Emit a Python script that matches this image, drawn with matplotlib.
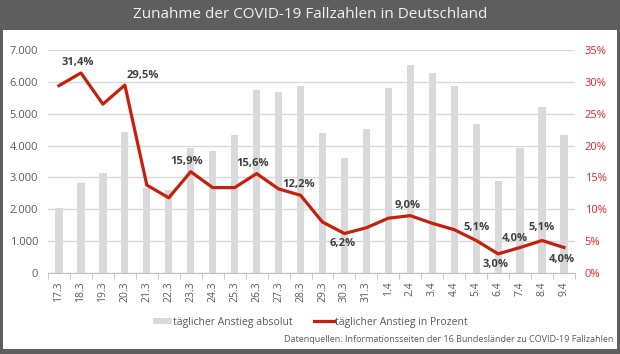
import numpy as np
import matplotlib
matplotlib.use("Agg")
import matplotlib.pyplot as plt
from matplotlib.patches import Rectangle, Patch
from matplotlib.lines import Line2D
from matplotlib.ticker import FuncFormatter, FixedLocator

plt.rcParams['font.family'] = ['Open Sans', 'DejaVu Sans']

# Daten
tage = ["17.3", "18.3", "19.3", "20.3", "21.3", "22.3", "23.3", "24.3", "25.3",
        "26.3", "27.3", "28.3", "29.3", "30.3", "31.3", "1.4", "2.4", "3.4",
        "4.4", "5.4", "6.4", "7.4", "8.4", "9.4"]
anstieg_absolut = [2040, 2820, 3130, 4420, 2680, 2600, 3910, 3830, 4340,
                   5740, 5680, 5880, 4390, 3600, 4510, 5800, 6540, 6290,
                   5870, 4680, 2890, 3920, 5210, 4320]
anstieg_prozent = [29.4, 31.4, 26.5, 29.5, 13.8, 11.8, 15.9, 13.4, 13.4,
                   15.6, 13.2, 12.2, 8.0, 6.2, 7.1, 8.6, 9.0, 7.8,
                   6.8, 5.1, 3.0, 4.0, 5.1, 4.0]

# welche Punkte beschriftet werden, mit Versatz in Pixeln (dx, dy)
beschriftung = {1: (-3, 10), 3: (18, 10), 6: (-4, 10), 9: (-4, 10), 11: (-2, 11),
                13: (-2, -10), 16: (-3, 10), 19: (0, 13), 20: (-3, -11),
                21: (-5, 9), 22: (0, 13), 23: (-2, -12)}

W, H = 620, 354
fig = plt.figure(figsize=(W / 100, H / 100), dpi=100)
fig.patch.set_facecolor("#5e5e5e")
fig.patches.append(Rectangle((3 / W, 5 / H), 614 / W, (H - 30 - 5) / H,
                             transform=fig.transFigure, facecolor="white",
                             edgecolor="none", zorder=-5))
fig.text(0.5, 1 - 15 / H, "Zunahme der COVID-19 Fallzahlen in Deutschland",
         ha="center", va="center", color="#f2f2f2", fontsize=11)

ax = fig.add_axes([48 / W, (H - 273) / H, 527 / W, 223 / H])
ax.set_zorder(1)
ax.set_facecolor("none")
x = np.arange(len(tage))
ax.bar(x, anstieg_absolut, width=0.33, color="#d9d9d9", zorder=2)
ax.set_xlim(-0.5, len(tage) - 0.5)
ax.set_ylim(0, 7000)
ax.set_yticks(np.arange(0, 7001, 1000))
ax.yaxis.set_major_formatter(FuncFormatter(lambda v, p: f"{int(v):,}".replace(",", ".")))
ax.grid(axis="y", color="#d9d9d9", lw=1, zorder=0)
ax.set_axisbelow(True)
ax.set_xticks(x)
ax.set_xticklabels(tage, rotation=90)
ax.xaxis.set_minor_locator(FixedLocator(np.arange(-0.5, len(tage), 1)))
ax.tick_params(axis="x", which="major", length=0, pad=6, labelsize=7.5, colors="#595959")
ax.tick_params(axis="x", which="minor", length=4, color="#bfbfbf")
ax.tick_params(axis="y", length=0, labelsize=8, colors="#595959", pad=7)
for s in ["top", "right", "left"]:
    ax.spines[s].set_visible(False)
ax.spines["bottom"].set_color("#bfbfbf")

ax2 = ax.twinx()
ax2.set_zorder(2)
ax2.set_facecolor("none")
ax2.plot(x, anstieg_prozent, color="#c4200c", lw=2.3, zorder=3)
ax2.set_ylim(0, 35)
ax2.set_yticks(np.arange(0, 36, 5))
ax2.yaxis.set_major_formatter(FuncFormatter(lambda v, p: f"{int(v)}%"))
ax2.tick_params(axis="y", length=0, labelsize=8, colors="#e8202a", pad=7)
for s in ["top", "right", "left", "bottom"]:
    ax2.spines[s].set_visible(False)

for i, (dx, dy) in beschriftung.items():
    txt = f"{anstieg_prozent[i]:.1f}%".replace(".", ",")
    ax2.annotate(txt, (x[i], anstieg_prozent[i]), xytext=(dx * 0.72, dy * 0.72),
                 textcoords="offset points", ha="center", va="center",
                 fontsize=8, fontweight="bold", color="#404040")

handles = [Patch(facecolor="#d9d9d9", edgecolor="none"),
           Line2D([0], [0], color="#c4200c", lw=2.3)]
fig.legend(handles, ["täglicher Anstieg absolut", "täglicher Anstieg in Prozent"],
           loc="center", bbox_to_anchor=(310 / W, 1 - 322 / H), ncol=2,
           frameon=False, fontsize=7.5, handlelength=1.9, handleheight=0.6,
           handletextpad=0.1, columnspacing=2.0, labelcolor="#595959")

fig.text(613 / W, 1 - 340 / H,
         "Datenquellen: Informationsseiten der 16 Bundesländer zu COVID-19 Fallzahlen",
         ha="right", va="center", fontsize=6.5, color="#595959")

fig.savefig("out.png", dpi=100, facecolor=fig.get_facecolor())
